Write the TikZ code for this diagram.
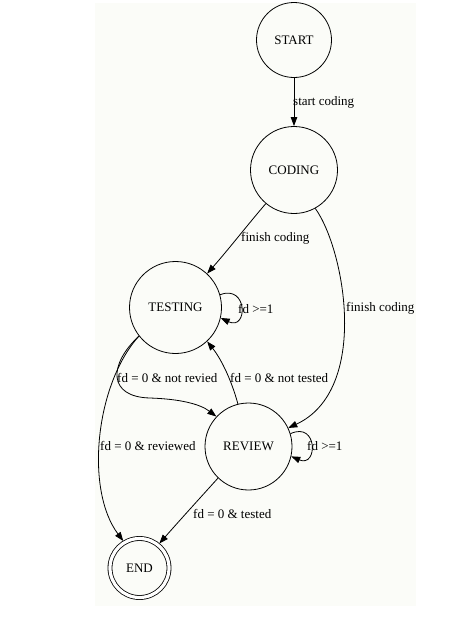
\documentclass[tikz,border=0pt]{standalone}
\usepackage{fontspec}
\setmainfont{Liberation Serif}
\usetikzlibrary{arrows.meta}
\definecolor{paper}{RGB}{251,252,248}
\begin{document}
\begin{tikzpicture}[x=1pt,y=-1pt,
  state/.style={circle,draw=black,line width=0.8pt,inner sep=0pt,font=\fontsize{13}{15}\selectfont},
  edge/.style={draw=black,line width=0.8pt,-{Triangle[length=9pt,width=6.5pt]}},
  lbl/.style={font=\fontsize{13}{15}\selectfont,inner sep=0pt,anchor=west}]
\useasboundingbox (0,0) rectangle (474,619);
\fill[paper] (95,3) rectangle (416,606);
\node[state,minimum size=75pt] (start) at (294,40) {START};
\node[state,minimum size=87pt] (coding) at (294,170) {CODING};
\node[state,minimum size=92pt] (testing) at (175.5,307.5) {TESTING};
\node[state,minimum size=87pt] (review) at (248.5,446.5) {REVIEW};
\node[state,minimum size=59pt,double,double distance=3.2pt,outer sep=2pt] (end) at (139.5,568) {END};

\draw[edge] (start.south) -- (coding.north);
\node[lbl] (l1) at (293,102) {start coding};

\draw[edge] (coding.-130) .. controls (245,228) and (228,250) .. (testing.47);
\node[lbl] (l2) at (241,238) {finish coding};

\draw[edge] (coding.-61) .. controls (345,250) and (370,390) .. (review.25);
\node[lbl] (l3) at (346,308) {finish coding};

\draw[edge] (testing.16) .. controls (248,284) and (248,331) .. (testing.-13);
\node[lbl] (l4) at (238,309) {fd >=1};

\draw[edge] (testing.-142) .. controls (108,365) and (108,397) .. (150,398)
  .. controls (180,399) and (200,404) .. (review.137);
\node[lbl] (l5) at (117,378) {fd = 0 \& not revied};

\draw[edge] (review.104) .. controls (232,382) and (222,360) .. (testing.-47);
\node[lbl] (l6) at (230,378) {fd = 0 \& not tested};

\draw[edge] (testing.-142) .. controls (95,385) and (85,490) .. (end.121);
\node[lbl] (l7) at (100,446) {fd = 0 \& reviewed};

\draw[edge] (review.17) .. controls (318,421) and (318,468) .. (review.-13);
\node[lbl] (l8) at (307,446) {fd >=1};

\draw[edge] (review.-134) .. controls (200,498) and (180,520) .. (end.51);
\node[lbl] (l9) at (193,514) {fd = 0 \& tested};
\end{tikzpicture}
\end{document}
